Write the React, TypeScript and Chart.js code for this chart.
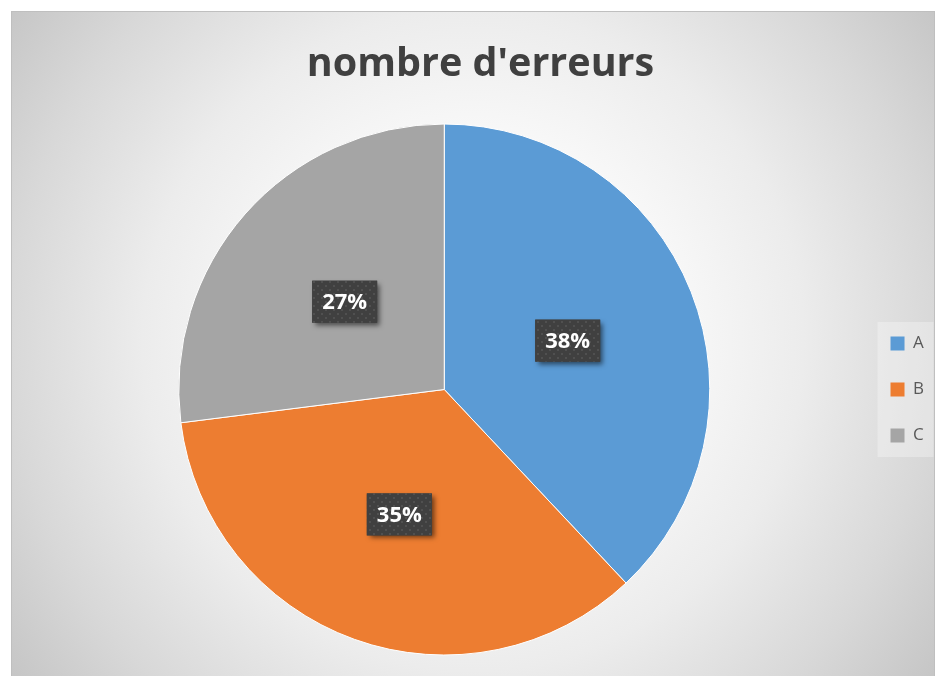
import { useEffect, useRef } from 'react';
import { Chart, registerables } from 'chart.js';

Chart.register(...registerables);

const categories = ['A', 'B', 'C'];
const errorCounts = [38, 35, 27];
const sliceColors = ['#5B9BD5', '#ED7D31', '#A5A5A5'];
const chartTitle = "nombre d'erreurs";

const FONT = "'Open Sans', sans-serif";

const backgroundPlugin = {
  id: 'excelBackground',
  beforeDraw(chart: any) {
    const { ctx, width, height } = chart;
    ctx.save();
    ctx.fillStyle = '#ffffff';
    ctx.fillRect(0, 0, width, height);
    const fx = 11, fy = 11, fw = 924, fh = height + 10;
    const g = ctx.createRadialGradient(473, 340, 0, 473, 340, 580);
    g.addColorStop(0, '#ffffff');
    g.addColorStop(0.3, '#fbfbfb');
    g.addColorStop(0.57, '#ececec');
    g.addColorStop(0.8, '#d8d8d8');
    g.addColorStop(1, '#c4c4c4');
    ctx.fillStyle = g;
    ctx.fillRect(fx, fy, fw, fh);
    ctx.strokeStyle = '#bfbfbf';
    ctx.lineWidth = 1;
    ctx.strokeRect(fx + 0.5, fy + 0.5, fw - 1, fh);
    const lg = chart.legend;
    if (lg) {
      const mid = (lg.top + lg.bottom) / 2;
      ctx.fillStyle = 'rgba(255,255,255,0.3)';
      ctx.fillRect(lg.left + 16, mid - 67.5, 56, 135);
    }
    ctx.restore();
  },
};

let dotPattern: CanvasPattern | null = null;
function getPattern(ctx: CanvasRenderingContext2D) {
  if (dotPattern) return dotPattern;
  const c = document.createElement('canvas');
  c.width = 8;
  c.height = 8;
  const p = c.getContext('2d')!;
  p.fillStyle = '#404040';
  p.fillRect(0, 0, 8, 8);
  p.fillStyle = '#505050';
  p.fillRect(1, 1, 2, 2);
  p.fillRect(5, 5, 2, 2);
  dotPattern = ctx.createPattern(c, 'repeat');
  return dotPattern;
}

const labelPlugin = {
  id: 'boxedLabels',
  afterDatasetsDraw(chart: any) {
    const { ctx } = chart;
    const meta = chart.getDatasetMeta(0);
    const values: number[] = chart.data.datasets[0].data;
    const total = values.reduce((a, b) => a + b, 0);
    meta.data.forEach((arc: any, i: number) => {
      const { x, y, startAngle, endAngle, outerRadius } = arc.getProps(
        ['x', 'y', 'startAngle', 'endAngle', 'outerRadius'],
        true
      );
      const mid = (startAngle + endAngle) / 2;
      const r = outerRadius * 0.5;
      const px = x + Math.cos(mid) * r;
      const py = y + Math.sin(mid) * r;
      const text = Math.round((values[i] / total) * 100) + '%';
      ctx.save();
      ctx.font = `bold 22px ${FONT}`;
      const tw = ctx.measureText(text).width;
      const bw = tw + 20;
      const bh = 42;
      ctx.shadowColor = 'rgba(0,0,0,0.55)';
      ctx.shadowBlur = 5;
      ctx.shadowOffsetX = 3;
      ctx.shadowOffsetY = 3;
      ctx.fillStyle = '#404040';
      ctx.fillRect(px - bw / 2, py - bh / 2, bw, bh);
      ctx.shadowColor = 'transparent';
      ctx.fillStyle = getPattern(ctx) || '#404040';
      ctx.fillRect(px - bw / 2, py - bh / 2, bw, bh);
      ctx.fillStyle = '#ffffff';
      ctx.textAlign = 'center';
      ctx.textBaseline = 'middle';
      ctx.fillText(text, px, py + 1);
      ctx.restore();
    });
  },
};

export default function App() {
  const ref = useRef<HTMLCanvasElement>(null);
  useEffect(() => {
    document.body.style.margin = '0';
    const chart = new Chart(ref.current!, {
      type: 'pie',
      data: {
        labels: categories,
        datasets: [
          {
            data: errorCounts,
            backgroundColor: sliceColors,
            borderColor: '#ffffff',
            borderWidth: 1,
          },
        ],
      },
      options: {
        responsive: false,
        animation: false,
        layout: { padding: { left: 27, right: 3, top: 0, bottom: 20.5 } },
        plugins: {
          title: {
            display: true,
            text: chartTitle,
            color: '#404040',
            font: { family: FONT, size: 39.5, weight: 'bold', lineHeight: 1.2 },
            padding: { top: 41.4, bottom: 34.7 },
          },
          legend: {
            position: 'right',
            fullSize: false,
            labels: {
              boxWidth: 14,
              boxHeight: 14,
              padding: 29,
              color: '#595959',
              font: { family: FONT, size: 17 },
              generateLabels: (c: any) =>
                (Chart as any).overrides.pie.plugins.legend.labels
                  .generateLabels(c)
                  .map((l: any) => ({ ...l, lineWidth: 0, strokeStyle: 'rgba(0,0,0,0)' })),
            },
          },
          tooltip: { enabled: false },
        },
      } as any,
      plugins: [backgroundPlugin, labelPlugin],
    });
    return () => chart.destroy();
  }, []);
  return (
    <div style={{ position: 'absolute', left: 0, top: 0, width: 937, height: 676 }}>
      <canvas ref={ref} width={937} height={676} style={{ display: 'block' }} />
    </div>
  );
}
